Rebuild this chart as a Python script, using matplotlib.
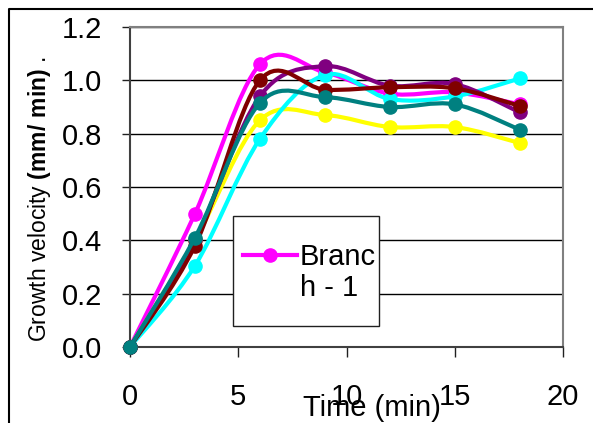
import matplotlib
matplotlib.use('Agg')
import matplotlib.pyplot as plt
from matplotlib.path import Path
from matplotlib.patches import PathPatch, Rectangle
from matplotlib.lines import Line2D

plt.rcParams['font.family'] = ['Liberation Sans', 'DejaVu Sans']
plt.rcParams['mathtext.fontset'] = 'custom'
plt.rcParams['mathtext.rm'] = 'Liberation Sans'
plt.rcParams['mathtext.bf'] = 'Liberation Sans:bold'

# time points (min)
time_min = [0, 3, 6, 9, 12, 15, 18]

# growth velocity per branch (mm/min)
branch_1 = [0, 0.50, 1.06, 1.03, 0.95, 0.955, 0.91]
branch_2 = [0, 0.40, 0.85, 0.87, 0.825, 0.825, 0.765]
branch_3 = [0, 0.305, 0.78, 1.02, 0.93, 0.94, 1.007]
branch_4 = [0, 0.40, 0.94, 1.053, 0.98, 0.986, 0.88]
branch_5 = [0, 0.38, 1.00, 0.965, 0.974, 0.97, 0.904]
branch_6 = [0, 0.41, 0.915, 0.937, 0.90, 0.91, 0.815]

series = [
    (branch_1, '#FF00FF'),
    (branch_2, '#FFFF00'),
    (branch_3, '#00FFFF'),
    (branch_4, '#800080'),
    (branch_5, '#800000'),
    (branch_6, '#008080'),
]


def smooth_path(xs, ys):
    # excel-like smoothed line: cubic bezier between each pair of points
    pts = list(zip(xs, ys))
    n = len(pts)
    verts = [pts[0]]
    codes = [Path.MOVETO]
    for i in range(n - 1):
        p0 = pts[i - 1] if i > 0 else pts[i]
        p1 = pts[i]
        p2 = pts[i + 1]
        p3 = pts[i + 2] if i + 2 < n else pts[i + 1]
        c1 = (p1[0] + (p2[0] - p0[0]) / 6, p1[1] + (p2[1] - p0[1]) / 6)
        c2 = (p2[0] - (p3[0] - p1[0]) / 6, p2[1] - (p3[1] - p1[1]) / 6)
        verts += [c1, c2, p2]
        codes += [Path.CURVE4] * 3
    return Path(verts, codes)


fig = plt.figure(figsize=(5.93, 4.23), dpi=100)
W, H = 593, 423
ax = fig.add_axes([130 / W, 1 - 347 / H, (563 - 130) / W, (347 - 27) / H])

for i, (vals, col) in enumerate(series):
    patch = PathPatch(smooth_path(time_min, vals), facecolor='none', edgecolor=col,
                      lw=3, zorder=3 + i, capstyle='round', joinstyle='round')
    ax.add_patch(patch)
    ax.plot(time_min, vals, linestyle='none', marker='o', markersize=9.5,
            color=col, zorder=3 + i, clip_on=False)

ax.set_xlim(0, 20)
ax.set_ylim(0, 1.2)
ax.set_xticks([0, 5, 10, 15, 20])
ax.set_yticks([0, 0.2, 0.4, 0.6, 0.8, 1.0, 1.2])
ax.set_yticklabels(['0.0', '0.2', '0.4', '0.6', '0.8', '1.0', '1.2'])
ax.tick_params(axis='x', direction='out', length=7, width=1, pad=19, labelsize=21, color='#202020')
ax.tick_params(axis='y', direction='out', length=6, width=1, pad=14, labelsize=21, color='#202020')
ax.yaxis.grid(True, color='black', lw=1)
ax.set_axisbelow(True)
for s in ['top', 'right']:
    ax.spines[s].set_color('#808080')
    ax.spines[s].set_linewidth(1.5)
for s in ['left', 'bottom']:
    ax.spines[s].set_color('#404040')
    ax.spines[s].set_linewidth(1.5)

fig.text(40 / W, 1 - 199 / H, r'Growth velocity $\mathbf{(mm/\ min)}$ .', rotation=90,
         ha='center', va='center', fontsize=16.5)
fig.text(372 / W, 1 - 408 / H, 'Time (min)', ha='center', va='center', fontsize=21)

# legend box (only the first branch is listed, its label wrapped)
fig.add_artist(Rectangle((233 / W, 1 - 326 / H), (379 - 233) / W, (326 - 216) / H,
                         transform=fig.transFigure, facecolor='white',
                         edgecolor='#202020', lw=1, zorder=1))
handle = Line2D([], [], color='#FF00FF', lw=3, marker='o', markersize=9.5)
blank = Line2D([], [], alpha=0)
leg = fig.legend([handle, blank], ['Branc', 'h - 1'], loc='upper left',
                 bbox_to_anchor=(243 / W, 1 - 243 / H), bbox_transform=fig.transFigure,
                 fontsize=21, frameon=False, borderaxespad=0, borderpad=0,
                 handlelength=1.85, handletextpad=0.1, labelspacing=0.1)
leg.set_zorder(2)

# outer chart border (left and top only are visible)
fig.add_artist(Line2D([9 / W, 9 / W, 1], [0, 1 - 9 / H, 1 - 9 / H],
                      transform=fig.transFigure, color='black', lw=1.5))

fig.savefig('out.png', dpi=100)
